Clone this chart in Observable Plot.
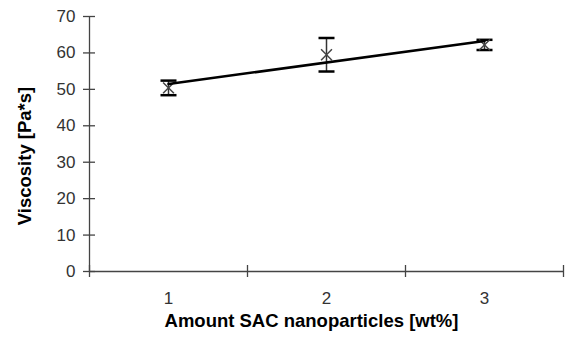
<!DOCTYPE html>
<html>
<head>
<meta charset="utf-8">
<script src="https://cdn.jsdelivr.net/npm/d3@7"></script>
<script src="https://cdn.jsdelivr.net/npm/@observablehq/plot@0.6"></script>
<style>
  html, body { margin: 0; padding: 0; background: #fff; }
  svg { display: block; }
</style>
</head>
<body>
<div id="chart"></div>
<script>
const amounts = [1, 2, 3];
const viscosity = [50.4, 59.5, 62.2];
const errors = [2.0, 4.6, 1.4];
const yTicks = [0, 10, 20, 30, 40, 50, 60, 70];
const xBoundaries = [0.5, 1.5, 2.5, 3.5];
const xLabel = "Amount SAC nanoparticles [wt%]";
const yLabel = "Viscosity [Pa*s]";

const data = amounts.map((a, i) => ({x: a, y: viscosity[i], lo: viscosity[i] - errors[i], hi: viscosity[i] + errors[i]}));

const hline = {
  draw(context, size) {
    const r = Math.sqrt(size / Math.PI);
    context.moveTo(-r, 0);
    context.lineTo(r, 0);
  }
};

const font = "'Liberation Sans', Arial, sans-serif";
const axisColor = "#444";

const chart = Plot.plot({
  width: 571,
  height: 349,
  marginLeft: 89,
  marginRight: 8,
  marginTop: 16,
  marginBottom: 78,
  style: {fontFamily: font, background: "#fff"},
  x: {domain: [0.5, 3.5]},
  y: {domain: [0, 70]},
  marks: [
    Plot.ruleX([0.5], {stroke: axisColor, strokeWidth: 1.3}),
    Plot.ruleY([0], {stroke: axisColor, strokeWidth: 1.3}),
    Plot.axisY({ticks: yTicks, tickSize: 12, dx: 6, text: null, stroke: axisColor, strokeWidth: 1.3, label: null}),
    Plot.axisY({ticks: yTicks, tickSize: 0, tickPadding: 14, fontSize: 17, fill: "#333", label: null}),
    Plot.axisX({ticks: xBoundaries, tickSize: 12, dy: -6, text: null, stroke: axisColor, strokeWidth: 1.3, label: null}),
    Plot.axisX({ticks: amounts, tickSize: 0, tickPadding: 20, fontSize: 17, fill: "#333", label: null, tickFormat: d => String(d)}),
    Plot.text([xLabel], {frameAnchor: "bottom", dx: -15, dy: 55, fontSize: 18.5, fontWeight: "bold", fill: "#000", textAnchor: "middle"}),
    Plot.text([yLabel], {frameAnchor: "left", dx: -64, dy: 12, rotate: -90, fontSize: 18.5, fontWeight: "bold", fill: "#000", textAnchor: "middle"}),
    Plot.ruleX(data, {x: "x", y1: "lo", y2: "hi", stroke: "#333", strokeWidth: 1.5}),
    Plot.dot(data, {x: "x", y: "hi", symbol: hline, r: 8, stroke: "#000", strokeWidth: 2.5}),
    Plot.dot(data, {x: "x", y: "lo", symbol: hline, r: 8, stroke: "#000", strokeWidth: 2.5}),
    Plot.dot(data, {x: "x", y: "y", symbol: "times", r: 5, stroke: "#444", strokeWidth: 1.5}),
    Plot.linearRegressionY(data, {x: "x", y: "y", stroke: "#000", strokeWidth: 2.5, ci: 0})
  ]
});

document.getElementById("chart").appendChild(chart);
</script>
</body>
</html>
